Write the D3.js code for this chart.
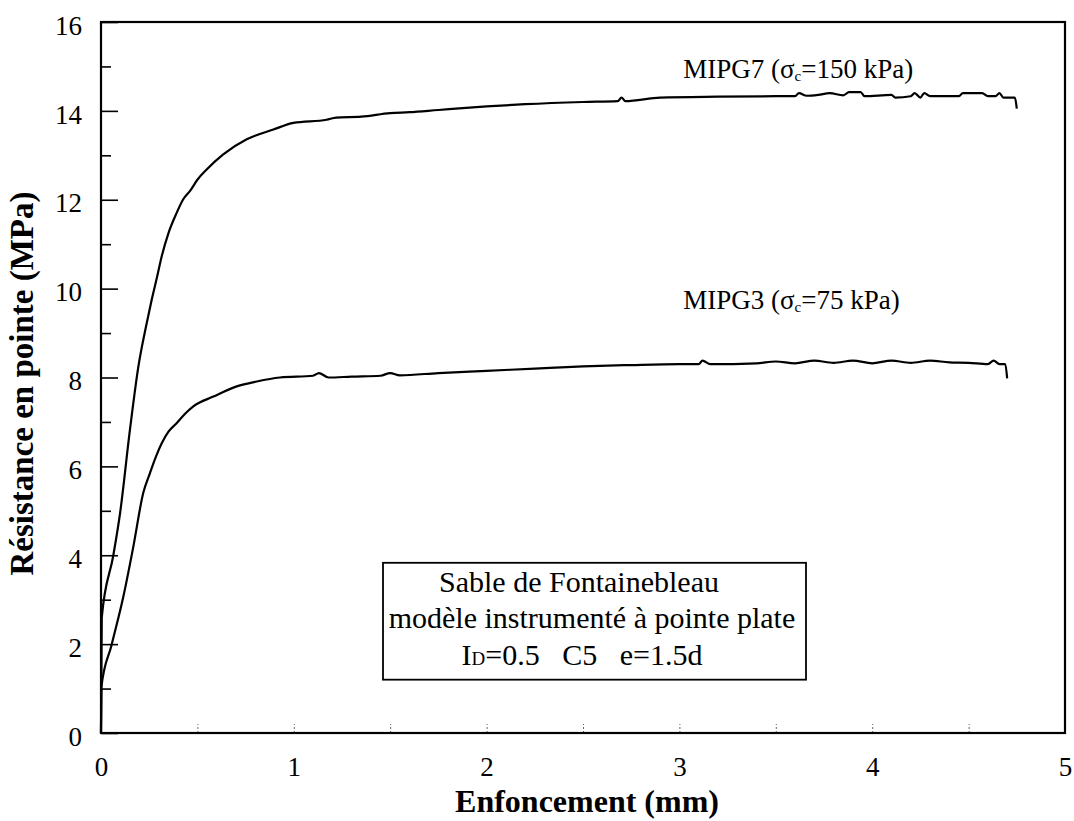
<!DOCTYPE html>
<html lang="fr">
<head>
<meta charset="utf-8">
<title>enfoncement</title>
<script src="https://cdn.jsdelivr.net/npm/d3@7"></script>
<style>
body {margin: 0; background: white;}
svg text {font-family: "Liberation Serif", "Times New Roman", serif; fill: black;}
</style>
</head>
<body>
<svg width="1074" height="821"></svg>
<script>
// courbes (enfoncement en mm, resistance en MPa)
var mipg7X = [0, 0.004, 0.064, 0.099, 0.15, 0.194, 0.237, 0.263, 0.29, 0.315, 0.35, 0.392, 0.425, 0.462, 0.5, 0.548, 0.634, 0.756, 0.894, 0.998, 1.17, 1.22, 1.35, 1.5, 1.6, 1.75, 2.0, 2.2, 2.5, 2.68, 2.7, 2.72, 2.9, 3.2, 3.5, 3.6, 3.62, 3.66, 3.72, 3.78, 3.85, 3.88, 3.94, 3.96, 4.1, 4.12, 4.2, 4.22, 4.25, 4.27, 4.3, 4.45, 4.47, 4.57, 4.6, 4.64, 4.66, 4.68, 4.74, 4.75];
var mipg7Y = [0, 2.6, 4.0, 4.95, 6.82, 8.25, 9.22, 9.75, 10.25, 10.73, 11.25, 11.7, 12.0, 12.2, 12.45, 12.68, 13.02, 13.36, 13.58, 13.73, 13.8, 13.85, 13.87, 13.95, 13.97, 14.02, 14.1, 14.15, 14.2, 14.22, 14.3, 14.22, 14.3, 14.32, 14.33, 14.33, 14.4, 14.34, 14.36, 14.4, 14.35, 14.42, 14.42, 14.33, 14.36, 14.3, 14.33, 14.4, 14.3, 14.4, 14.33, 14.33, 14.4, 14.4, 14.33, 14.33, 14.4, 14.3, 14.3, 14.05];

var mipg3X = [0, 0.002, 0.055, 0.116, 0.168, 0.219, 0.254, 0.285, 0.315, 0.35, 0.392, 0.435, 0.479, 0.583, 0.704, 0.808, 0.928, 1.1, 1.13, 1.18, 1.3, 1.45, 1.5, 1.55, 1.75, 2.0, 2.25, 2.5, 2.75, 3.0, 3.1, 3.12, 3.16, 3.4, 3.5, 3.6, 3.7, 3.8, 3.9, 4.0, 4.1, 4.2, 4.3, 4.4, 4.5, 4.6, 4.63, 4.66, 4.69, 4.7];
var mipg3Y = [0, 1.04, 1.98, 3.07, 4.2, 5.4, 5.85, 6.22, 6.52, 6.78, 6.97, 7.18, 7.35, 7.57, 7.8, 7.91, 8.0, 8.04, 8.1, 8.0, 8.02, 8.04, 8.1, 8.05, 8.1, 8.15, 8.2, 8.25, 8.28, 8.3, 8.3, 8.38, 8.3, 8.32, 8.36, 8.32, 8.38, 8.33, 8.38, 8.32, 8.38, 8.33, 8.38, 8.34, 8.33, 8.3, 8.38, 8.3, 8.3, 7.98];

var xTicks = [0, 1, 2, 3, 4, 5];
var xMinor = [0.5, 1, 1.5, 2, 2.5, 3, 3.5, 4, 4.5];
var yTicks = [0, 2, 4, 6, 8, 10, 12, 14, 16];
var yMinor = [1, 3, 5, 7, 9, 11, 13, 15];

var encadre = ["Sable de Fontainebleau", "modèle instrumenté à pointe plate"];

/// echelles
var x = d3.scaleLinear().domain([0, 5]).range([101, 1065]);
var y = d3.scaleLinear().domain([0, 16]).range([733, 22]);

var svg = d3.select("svg");

/// axes
var gY = svg.append("g")
		.attr("transform", "translate(" + x(0) + ",0)")
		.call(d3.axisLeft(y).tickValues(yTicks).tickSize(-17).tickPadding(19).tickFormat(d3.format("d")));
svg.append("g")
		.attr("transform", "translate(" + x(0) + ",0)")
		.call(d3.axisLeft(y).tickValues(yMinor).tickSize(-10).tickFormat(""));

var gX = svg.append("g")
		.attr("transform", "translate(0," + y(0) + ")")
		.call(d3.axisBottom(x).tickValues(xTicks).tickSize(0).tickPadding(24).tickFormat(d3.format("d")));
var gXm = svg.append("g")
		.attr("transform", "translate(0," + y(0) + ")")
		.call(d3.axisBottom(x).tickValues(xMinor).tickSize(-9).tickFormat(""));

svg.selectAll(".domain").remove();
svg.selectAll(".tick line").attr("stroke", "black").attr("stroke-width", 1.6);
gXm.selectAll(".tick line").attr("stroke", "#666").attr("stroke-width", 1).attr("stroke-dasharray", "2,2");
svg.selectAll(".tick text")
		.style("font-family", "'Liberation Serif', serif")
		.attr("font-size", 27)
		.attr("fill", "black");
gY.selectAll(".tick text").attr("dy", "0.45em");

/// cadre
svg.append("rect")
		.attr("x", x(0))
		.attr("y", y(16))
		.attr("width", x(5) - x(0))
		.attr("height", y(0) - y(16))
		.attr("fill", "none")
		.attr("stroke", "black")
		.attr("stroke-width", 2.2);

/// courbes
var ligne = d3.line()
		.curve(d3.curveMonotoneX)
		.x(function (d) {return x(d[0])})
		.y(function (d) {return y(d[1])});

[[mipg7X, mipg7Y], [mipg3X, mipg3Y]].forEach(function (s) {
	svg.append("path")
		.datum(d3.zip(s[0], s[1]))
		.attr("d", ligne)
		.attr("fill", "none")
		.attr("stroke", "black")
		.attr("stroke-width", 2.2)
		.attr("stroke-linejoin", "round");
});

/// etiquettes des courbes
function etiquette(nom, contrainte, xv, yv) {
	var t = svg.append("text")
			.attr("x", x(xv))
			.attr("y", y(yv))
			.attr("font-size", 27);
	t.append("tspan").text(nom + " (σ");
	t.append("tspan").text("c").attr("font-size", 15).attr("dy", 3);
	t.append("tspan").text("=" + contrainte + " kPa)").attr("dy", -3);
}
etiquette("MIPG7", 150, 3.02, 14.75);
etiquette("MIPG3", 75, 3.02, 9.55);

/// encadre
svg.append("rect")
		.attr("x", 383)
		.attr("y", y(3.83))
		.attr("width", 423)
		.attr("height", y(1.2) - y(3.83))
		.attr("fill", "white")
		.attr("stroke", "black")
		.attr("stroke-width", 1.8);

svg.selectAll(".ligneEncadre")
		.data(encadre)
		.enter()
		.append("text")
		.attr("x", function (d, i) {return i == 0 ? 579 : 592})
		.attr("y", function (d, i) {return 592 + i * 36})
		.attr("text-anchor", "middle")
		.attr("font-size", 30)
		.text(function (d) {return d});

var l3 = svg.append("text")
		.attr("x", 582)
		.attr("y", 665)
		.attr("text-anchor", "middle")
		.attr("font-size", 30)
		.attr("xml:space", "preserve");
l3.append("tspan").text("I");
l3.append("tspan").text("D").attr("font-size", 19);
l3.append("tspan").text("=0.5   C5   e=1.5d");

/// titres
svg.append("text")
		.attr("x", (x(0) + x(5)) / 2 + 4)
		.attr("y", 812)
		.attr("text-anchor", "middle")
		.attr("font-size", 32)
		.attr("font-weight", "bold")
		.text("Enfoncement (mm)");

svg.append("text")
		.attr("transform", "translate(33," + ((y(0) + y(16)) / 2 + 6) + ") rotate(-90)")
		.attr("text-anchor", "middle")
		.attr("font-size", 33)
		.attr("font-weight", "bold")
		.text("Résistance en pointe (MPa)");
</script>
</body>
</html>
